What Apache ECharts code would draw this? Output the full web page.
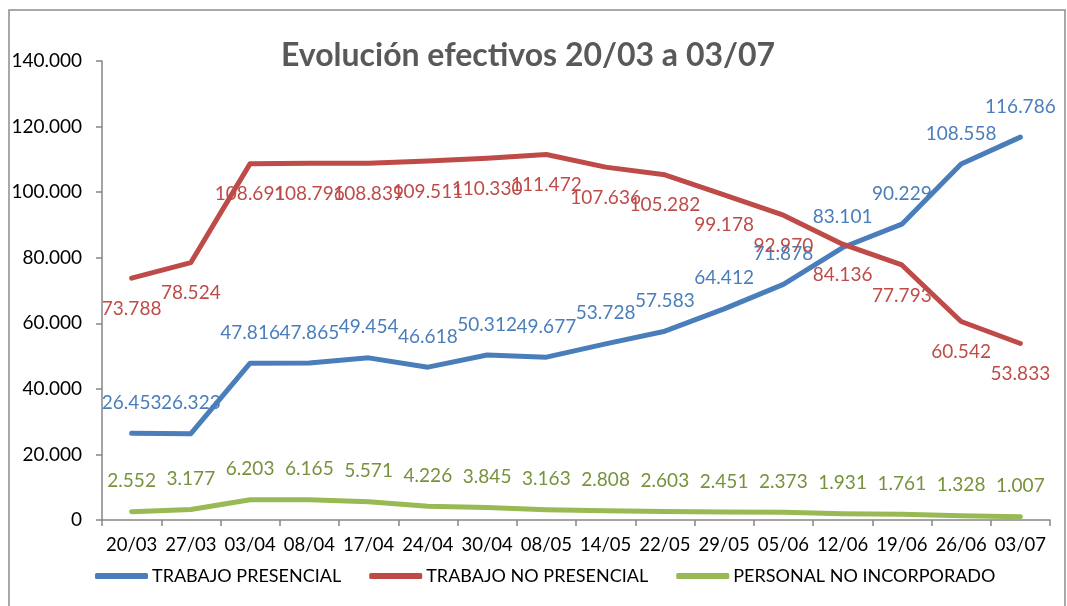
<!DOCTYPE html>
<html>
<head>
<meta charset="utf-8">
<script src="https://cdn.jsdelivr.net/npm/echarts@6/dist/echarts.min.js"></script>
<style>
html,body{margin:0;padding:0;background:#fff;}
#chart{width:1067px;height:606px;}
</style>
</head>
<body>
<div id="chart"></div>
<script>
const categories = ['20/03','27/03','03/04','08/04','17/04','24/04','30/04','08/05','14/05','22/05','29/05','05/06','12/06','19/06','26/06','03/07'];
const presencial = [26453,26323,47816,47865,49454,46618,50312,49677,53728,57583,64412,71878,83101,90229,108558,116786];
const noPresencial = [73788,78524,108691,108796,108839,109511,110330,111472,107636,105282,99178,92970,84136,77793,60542,53833];
const noIncorporado = [2552,3177,6203,6165,5571,4226,3845,3163,2808,2603,2451,2373,1931,1761,1328,1007];
const seriesNames = ['TRABAJO PRESENCIAL','TRABAJO NO PRESENCIAL','PERSONAL NO INCORPORADO'];
const titleText = 'Evolución efectivos 20/03 a 03/07';

function fmt(v){
  return String(Math.round(v)).replace(/\B(?=(\d{3})+(?!\d))/g, '.');
}
const FONT = 'Lato, "Open Sans", sans-serif';
const chart = echarts.init(document.getElementById('chart'));
function mk(name, data, color, labelColor, pos){
  return {
    name, type:'line', data,
    symbol:'circle', showSymbol:true, symbolSize:0, smooth:false,
    lineStyle:{width:5, color, cap:'round', join:'round'},
    itemStyle:{color},
    label:{show:true, position:pos, distance:21, color:labelColor, fontFamily:FONT, fontSize:19,
      formatter:p=>fmt(p.value)},
    labelLayout:{hideOverlap:false},
    emphasis:{disabled:true},
    animation:false
  };
}
chart.setOption({
  animation:false,
  title:{text:titleText, left:523, top:35, textAlign:'center',
    textStyle:{fontFamily:FONT, fontWeight:'bold', fontSize:32, color:'#595959'}},
  grid:{left:102, right:17, top:61, bottom:86},
  legend:{data:seriesNames, left:90, top:562, icon:'roundRect', itemWidth:53, itemHeight:6, itemGap:28,
    textStyle:{fontFamily:FONT, fontSize:18, color:'#000', padding:[0,0,0,-1]}},
  xAxis:{type:'category', data:categories, boundaryGap:true,
    axisLine:{lineStyle:{color:'#868686', width:1.5}},
    axisTick:{show:true, length:6, alignWithLabel:false, lineStyle:{color:'#868686', width:1.5}},
    axisLabel:{fontFamily:FONT, fontSize:18.5, color:'#000', margin:16, interval:0}},
  yAxis:{type:'value', min:0, max:140000, interval:20000,
    axisLine:{show:true, lineStyle:{color:'#868686', width:1.5}},
    axisTick:{show:true, length:6, lineStyle:{color:'#868686', width:1.5}},
    splitLine:{show:false},
    axisLabel:{fontFamily:FONT, fontSize:19, color:'#000', margin:20, formatter:v=>fmt(v)}},
  series:[
    mk(seriesNames[0], presencial, '#4a7ebb', '#4a7ebb', 'top'),
    mk(seriesNames[1], noPresencial, '#be4b48', '#be4b48', 'bottom'),
    mk(seriesNames[2], noIncorporado, '#98b954', '#76923c', 'top')
  ],
  graphic:[{type:'rect', shape:{x:9, y:10, width:1056, height:640},
    style:{fill:'none', stroke:'#8c8c8c', lineWidth:1.5}, silent:true, z:-1}]
});
</script>
</body>
</html>
